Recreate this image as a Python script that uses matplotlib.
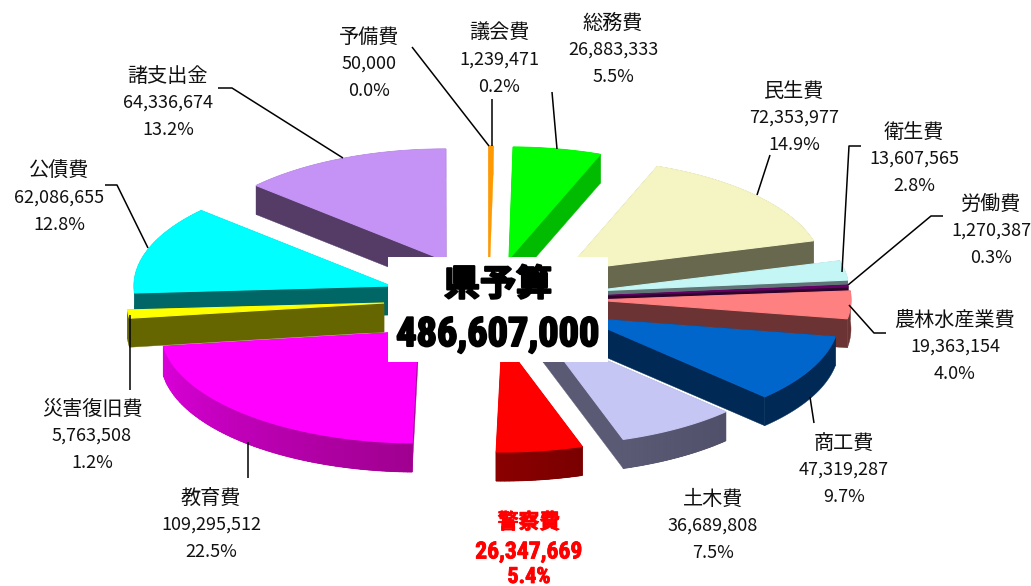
import numpy as np
import matplotlib
matplotlib.use('Agg')
import matplotlib.pyplot as plt
import matplotlib.colors as mcolors
import matplotlib.patheffects as pe

# Data, clockwise from the top
names = ['議会費', '総務費', '民生費', '衛生費', '労働費', '農林水産業費', '商工費',
         '土木費', '警察費', '教育費', '災害復旧費', '公債費', '諸支出金', '予備費']
values = [1239471, 26883333, 72353977, 13607565, 1270387, 19363154, 47319287,
          36689808, 26347669, 109295512, 5763508, 62086655, 64336674, 50000]
percents = ['0.2%', '5.5%', '14.9%', '2.8%', '0.3%', '4.0%', '9.7%',
            '7.5%', '5.4%', '22.5%', '1.2%', '12.8%', '13.2%', '0.0%']
total_label = '486,607,000'

# Styles
top_colors = ['#FF9900', '#00FF00', '#F5F5C3', '#C5F6F6', '#660066', '#FF8080', '#0066CC',
              '#C6C6F5', '#FF0000', '#FF00FF', '#FFFF00', '#00FFFF', '#C493F5', '#F8CDA4']
wall_start = ['#FF9900', '#00BB00', '#68684F', '#5F7575', '#2E002E', '#6B3333', '#002A55',
              '#50506A', '#7A0000', '#A00090', '#666600', '#006666', '#543C66', '#FF9900']
wall_end = ['#FF9900', '#00BB00', '#68684F', '#5F7575', '#2E002E', '#6B3333', '#002A55',
            '#5A5A74', '#8B0000', '#DC00DC', '#666600', '#006666', '#543C66', '#FF9900']

# Layout, all in picture pixels
rx, ry, depth = 257, 112, 29
apex_x = [489, 509, 566, 592, 592, 594, 582, 543, 502, 418, 384, 391, 446, 489]
apex_y = [258, 259, 271, 291, 296, 300, 318, 333, 340, 331, 303, 286, 261, 258]
draw_order = [12, 13, 0, 1, 2, 3, 11, 4, 5, 6, 9, 10, 7, 8]

label_x = [499, 613, 794, 914, 991, 955, 844, 713, 529, 211, 92, 59, 168, 369]
label_y = [33, 23, 91, 132, 204, 320, 443, 499, 522, 498, 409, 171, 76, 37]
line_gap = 27

leaders = [
    [(412, 47), (489, 146)],
    [(492, 99), (492, 146)],
    [(552, 92), (557, 149)],
    [(770, 155), (757, 195)],
    [(861, 146), (849, 146), (842, 272)],
    [(943, 216), (931, 216), (848, 285)],
    [(886, 333), (874, 333), (849, 305)],
    [(814, 423), (810, 397)],
    [(248, 478), (248, 442)],
    [(130, 390), (130, 315)],
    [(105, 185), (117, 185), (148, 248)],
    [(218, 88), (232, 88), (343, 158)],
]

plt.rcParams['font.family'] = ['Noto Sans CJK JP', 'DejaVu Sans']

fig = plt.figure(figsize=(10.31, 5.86), dpi=100)
ax = fig.add_axes([0, 0, 1, 1])
ax.set_xlim(0, 1031)
ax.set_ylim(586, 0)
ax.axis('off')

edges = np.cumsum([0] + values) / sum(values) * 2 * np.pi


def rim(i, thetas):
    return apex_x[i] + rx * np.sin(thetas), apex_y[i] - ry * np.cos(thetas)


for order, i in enumerate(draw_order):
    z = 2 + order * 0.01
    n = max(int((edges[i + 1] - edges[i]) * 60), 2)
    thetas = np.linspace(edges[i], edges[i + 1], n + 1)
    x, y = rim(i, thetas)
    # radial cut faces
    for k in (0, -1):
        ax.fill([apex_x[i], x[k], x[k], apex_x[i]],
                [apex_y[i], y[k], y[k] + depth, apex_y[i] + depth],
                color=wall_start[i] if k == 0 else wall_end[i], lw=0.3, zorder=z)
    # outer wall: one solid piece, then a fade along the rim where the colours differ
    c0 = np.array(mcolors.to_rgb(wall_start[i]))
    c1 = np.array(mcolors.to_rgb(wall_end[i]))
    ax.fill(np.r_[x, x[::-1]], np.r_[y, y[::-1] + depth], color=tuple((c0 + c1) / 2), lw=0.3, zorder=z)
    if wall_start[i] != wall_end[i]:
        for j in range(n):
            c = tuple(c0 + (c1 - c0) * j / max(n - 1, 1))
            ax.fill([x[j], x[j + 1], x[j + 1], x[j]],
                    [y[j], y[j + 1], y[j + 1] + depth, y[j] + depth],
                    facecolor=c, edgecolor=c, lw=0.7, zorder=z)
    # top face
    ax.fill(np.r_[apex_x[i], x], np.r_[apex_y[i], y], color=top_colors[i], lw=0.8, zorder=z)

for pts in leaders:
    ax.plot([p[0] for p in pts], [p[1] for p in pts], color='black', lw=1.1, zorder=3,
            solid_capstyle='butt')

# Labels
for i, name in enumerate(names):
    if name == '警察費':
        continue
    ax.text(label_x[i], label_y[i], name, ha='center', va='center', fontsize=14.5, color='#111111', zorder=5)
    ax.text(label_x[i], label_y[i] + line_gap, f'{values[i]:,}', ha='center', va='center',
            fontsize=13, color='#111111', zorder=5)
    ax.text(label_x[i], label_y[i] + 2 * line_gap, percents[i], ha='center', va='center',
            fontsize=13, color='#111111', zorder=5)

# Police budget is highlighted
i = names.index('警察費')
narrow = ['Roboto Condensed', 'Noto Sans CJK JP']
red_fx = [pe.withStroke(linewidth=0.6, foreground='red')]
ax.text(label_x[i], 522, names[i], ha='center', va='center', fontsize=15, color='red',
        fontweight='bold', zorder=5, path_effects=red_fx)
ax.text(label_x[i], 552, f'{values[i]:,}', ha='center', va='center', fontsize=17, color='red',
        fontweight='bold', family=narrow, zorder=5, path_effects=red_fx)
ax.text(label_x[i], 577, percents[i], ha='center', va='center', fontsize=16, color='red',
        fontweight='bold', family=narrow, zorder=5, path_effects=red_fx)

# Centre box
ax.fill([388, 608, 608, 388], [257, 257, 362, 362], color='white', lw=0, zorder=6)
black_fx = [pe.withStroke(linewidth=1.5, foreground='black')]
ax.text(498, 285, '県予算', ha='center', va='center', fontsize=26, color='black',
        fontweight='bold', zorder=7, path_effects=black_fx)
ax.text(498, 335, total_label, ha='center', va='center', fontsize=29, color='black',
        fontweight='bold', family=narrow, zorder=7, path_effects=black_fx)

fig.savefig('out.png', dpi=100)
